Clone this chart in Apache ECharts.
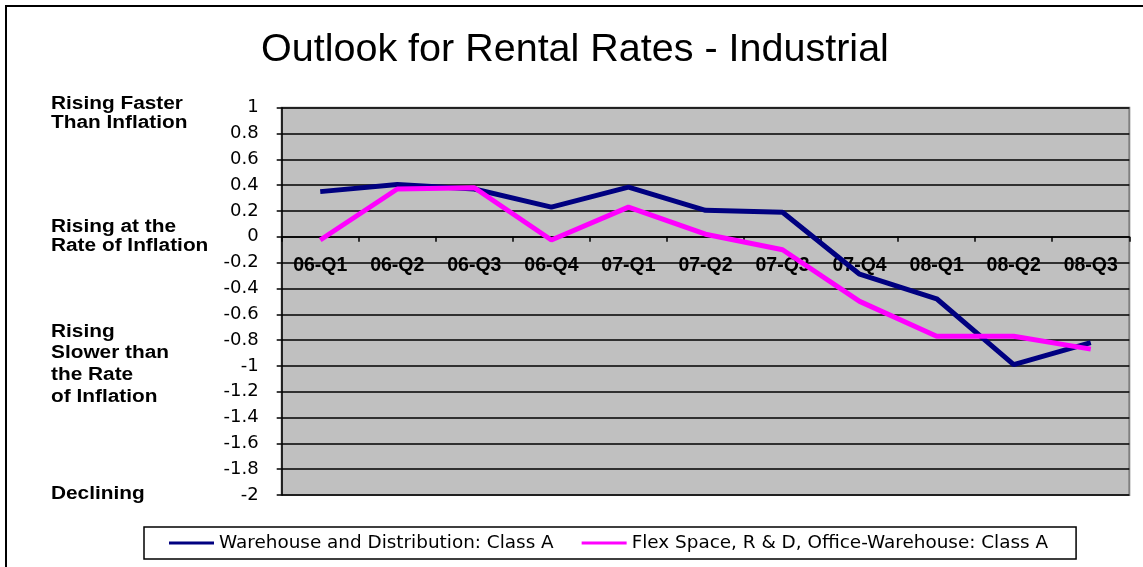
<!DOCTYPE html>
<html>
<head>
<meta charset="utf-8">
<title>Outlook for Rental Rates - Industrial</title>
<script src="https://cdn.jsdelivr.net/npm/echarts@6/dist/echarts.min.js"></script>
<style>
    html, body { margin: 0; padding: 0; background: #fff; }
    #chart { width: 1143px; height: 567px; }
</style>
</head>
<body>
<div id="chart"></div>
<script>
var categories = ['06-Q1', '06-Q2', '06-Q3', '06-Q4', '07-Q1', '07-Q2', '07-Q3', '07-Q4', '08-Q1', '08-Q2', '08-Q3'];
var warehouse = [0.35, 0.405, 0.37, 0.23, 0.385, 0.205, 0.19, -0.29, -0.48, -0.99, -0.82];
var flex = [-0.025, 0.37, 0.38, -0.025, 0.23, 0.02, -0.10, -0.50, -0.77, -0.77, -0.87];
var seriesNames = ['Warehouse and Distribution: Class A', 'Flex Space, R & D, Office-Warehouse: Class A'];
// side captions, one per block of lines
var sideLabels = [
    {text: 'Rising Faster\nThan Inflation', top: 94, lh: 19.5},
    {text: 'Rising at the\nRate of Inflation', top: 217, lh: 19.5},
    {text: 'Rising\nSlower than\nthe Rate\nof Inflation', top: 321, lh: 21.7},
    {text: 'Declining', top: 484, lh: 20}
];

var font = 'Liberation Sans, Arial, sans-serif';
var wideFont = 'DejaVu Sans, sans-serif';

window.onload = function(){
    var myChart = echarts.init(document.getElementById('chart'));

    var graphics = [
        {
            type: 'rect',
            shape: {x: 6, y: 6, width: 1300, height: 800},
            style: {fill: 'none', stroke: '#000', lineWidth: 2},
            silent: true
        }
    ];
    sideLabels.forEach(function(s){
        graphics.push({
            type: 'text',
            x: 51,
            y: s.top,
            scaleX: 1.19,
            style: {
                text: s.text,
                x: 0,
                y: 0,
                verticalAlign: 'top',
                font: 'bold 17.5px ' + font,
                fill: '#000',
                lineHeight: s.lh
            },
            silent: true
        });
    });

    var option = {
        animation: false,
        backgroundColor: '#fff',
        title: {
            text: 'Outlook for Rental Rates - Industrial',
            left: 261,
            top: 30,
            padding: 0,
            textStyle: {
                fontFamily: font,
                fontSize: 39.5,
                fontWeight: 'normal',
                color: '#000'
            }
        },
        graphic: graphics,
        legend: {
            left: 144,
            top: 527,
            padding: [7, 28, 7, 25],
            borderColor: '#000',
            borderWidth: 1.5,
            itemGap: 28,
            itemWidth: 45,
            itemHeight: 3,
            icon: 'rect',
            textStyle: {
                fontFamily: wideFont,
                fontSize: 18.4,
                color: '#000'
            },
            data: seriesNames
        },
        grid: {
            left: 281.7,
            right: 13.7,
            top: 107.7,
            bottom: 72,
            show: true,
            backgroundColor: '#c0c0c0',
            borderColor: '#808080',
            borderWidth: 2
        },
        xAxis: {
            type: 'category',
            data: categories,
            boundaryGap: true,
            position: 'bottom',
            offset: -258.2, // axis sits on the zero line
            axisLine: {onZero: false, lineStyle: {color: '#000', width: 1.5}},
            axisTick: {show: true, length: 5, lineStyle: {color: '#000', width: 1.5}},
            axisLabel: {
                interval: 0,
                margin: 19,
                fontFamily: font,
                fontSize: 19.5,
                fontWeight: 'bold',
                color: '#000'
            },
            splitLine: {show: false}
        },
        yAxis: {
            type: 'value',
            min: -2,
            max: 1,
            interval: 0.2,
            axisLine: {show: true, lineStyle: {color: '#000', width: 1.5}},
            axisTick: {show: true, length: 5, lineStyle: {color: '#000', width: 1.5}},
            axisLabel: {
                margin: 23,
                fontFamily: wideFont,
                fontSize: 18,
                color: '#000',
                formatter: function(v){ return String(Math.round(v * 10) / 10); }
            },
            splitLine: {lineStyle: {color: '#000', width: 1.5}}
        },
        series: [
            {
                name: seriesNames[0],
                type: 'line',
                color: '#000080',
                symbol: 'none',
                lineStyle: {color: '#000080', width: 5},
                data: warehouse
            },
            {
                name: seriesNames[1],
                type: 'line',
                color: '#ff00ff',
                symbol: 'none',
                lineStyle: {color: '#ff00ff', width: 5},
                data: flex
            }
        ]
    };
    myChart.setOption(option);

    window.onresize = function(){
        myChart.resize();
    };
};
</script>
</body>
</html>
